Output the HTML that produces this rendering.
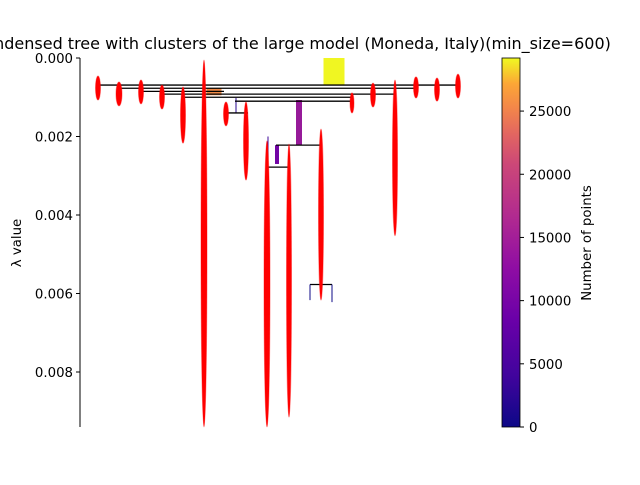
<!DOCTYPE html>
<html><head><meta charset="utf-8"><style>
body{margin:0;background:#fff;width:640px;height:480px;overflow:hidden}
svg text{font-family:"DejaVu Sans","Liberation Sans",sans-serif;font-size:13.3px;fill:#000}
</style></head><body>
<svg id="chart" width="640" height="480" viewBox="0 0 640 480" xmlns="http://www.w3.org/2000/svg">
<defs>
<linearGradient id="plasma" x1="0" y1="1" x2="0" y2="0">
<stop offset="0" stop-color="#0d0887"/><stop offset="0.14" stop-color="#41049d"/>
<stop offset="0.29" stop-color="#6a00a8"/><stop offset="0.43" stop-color="#8f0da4"/>
<stop offset="0.57" stop-color="#b12a90"/><stop offset="0.71" stop-color="#cc4778"/>
<stop offset="0.79" stop-color="#e16462"/><stop offset="0.86" stop-color="#f2844b"/>
<stop offset="0.93" stop-color="#fca636"/><stop offset="1" stop-color="#f0f921"/>
</linearGradient>
</defs>
<text x="292" y="49" text-anchor="middle" style="font-size:16px">Condensed tree with clusters of the large model (Moneda, Italy)(min_size=600)</text>
<g id="plot"></g>
<line x1="80" y1="58" x2="80" y2="427" stroke="#000" stroke-width="1"/>
<g id="yticks"></g>
<text transform="translate(21,243) rotate(-90)" text-anchor="middle">λ value</text>
<rect x="502" y="58" width="18" height="369" fill="url(#plasma)" stroke="#000" stroke-width="0.8"/>
<g id="cticks"></g>
<text transform="translate(591,243) rotate(-90)" text-anchor="middle">Number of points</text>
</svg>
<script>
const yTicks=[0,0.002,0.004,0.006,0.008];
const cTicks=[0,5000,10000,15000,20000,25000];
// leaf clusters: x position, lambda birth, lambda death
const leafX=[98,119,141,162,183,204,226,246,267,289,321,352,373,395,416,437,458];
const leafTop=[0.00046,0.00061,0.00056,0.00069,0.00074,0.00005,0.00112,0.00112,0.00211,0.00219,0.00181,0.00089,0.00064,0.00056,0.00048,0.00051,0.00041];
const leafBottom=[0.00107,0.00122,0.00117,0.00130,0.00217,0.0094,0.00173,0.00311,0.0094,0.00915,0.00617,0.00140,0.00125,0.00453,0.00102,0.00110,0.00102];
const leafW=[5,6,5,5,5,6,5,5,6,5,5,4,5,5,5,5,5];
// split lines: lambda, x1, x2
const splitL=[0.00069,0.00077,0.00085,0.00092,0.00100,0.00110,0.00140,0.00222,0.00278,0.00577];
const splitX1=[98,119,141,162,183,235,225,276,266,310];
const splitX2=[458,416,224,395,353,353,248,322,290,332];
// bars: x center, width, lambda top, lambda bottom, points
const barX=[334,214,299,277,236,268];
const barW=[21,15,6,4,1,1];
const barTop=[0,0.00077,0.00107,0.00222,0.00102,0.00200];
const barBot=[0.00069,0.00095,0.00222,0.00270,0.00140,0.00700];
const barN=[29000,21000,9500,6500,1500,3000];
const Y0=58,PX=39250,CMAX=29200;
const y=v=>Y0+v*PX;
const cy=v=>427-v/CMAX*369;
const NS="http://www.w3.org/2000/svg";
const plot=document.getElementById('plot');
function mk(t,a,p){const e=document.createElementNS(NS,t);for(const k in a)e.setAttribute(k,a[k]);p.appendChild(e);return e;}
function col(n){const s=[[13,8,135],[106,0,168],[177,42,144],[225,100,98],[252,166,54],[240,249,33]];let f=Math.min(0.999,n/CMAX)*5,i=Math.floor(f),t=f-i;const a=s[i],b=s[i+1];return `rgb(${a.map((c,k)=>Math.round(c+(b[k]-c)*t)).join(',')})`;}
barX.forEach((x,i)=>{
const r=mk('rect',{x:x-barW[i]/2,y:y(barTop[i]),width:barW[i],height:y(barBot[i])-y(barTop[i]),fill:col(barN[i])},plot);


});
splitL.forEach((l,i)=>{
const ln=mk('line',{x1:splitX1[i],x2:splitX2[i],y1:y(l),y2:y(l),stroke:'#000','stroke-width':1.3},plot);


});
[[310,0.00577,0.00617],[332,0.00577,0.00622]].forEach(d=>{
const ln=mk('line',{x1:d[0],x2:d[0],y1:y(d[1]),y2:y(d[2]),stroke:'#0d0887','stroke-width':1},plot);


});
leafX.forEach((x,i)=>{
const t=y(leafTop[i]),b=y(leafBottom[i]);
const e=mk('ellipse',{cx:x,cy:(t+b)/2,rx:leafW[i]/2,ry:(b-t)/2,fill:'#ff0000',stroke:'#ff0000','stroke-opacity':0.4,'stroke-width':1},plot);


});
const yt=document.getElementById('yticks');
yTicks.forEach(v=>{
const l=mk('line',{x1:76,x2:80,y1:y(v),y2:y(v),stroke:'#000'},yt);


const tx=mk('text',{x:73,y:y(v)+5,'text-anchor':'end'},yt);tx.textContent=v.toFixed(3);


});
const ct=document.getElementById('cticks');
cTicks.forEach(v=>{
const l=mk('line',{x1:520,x2:524,y1:cy(v),y2:cy(v),stroke:'#000'},ct);


const tx=mk('text',{x:529,y:cy(v)+5},ct);tx.textContent=v;


});
</script>
</body></html>
